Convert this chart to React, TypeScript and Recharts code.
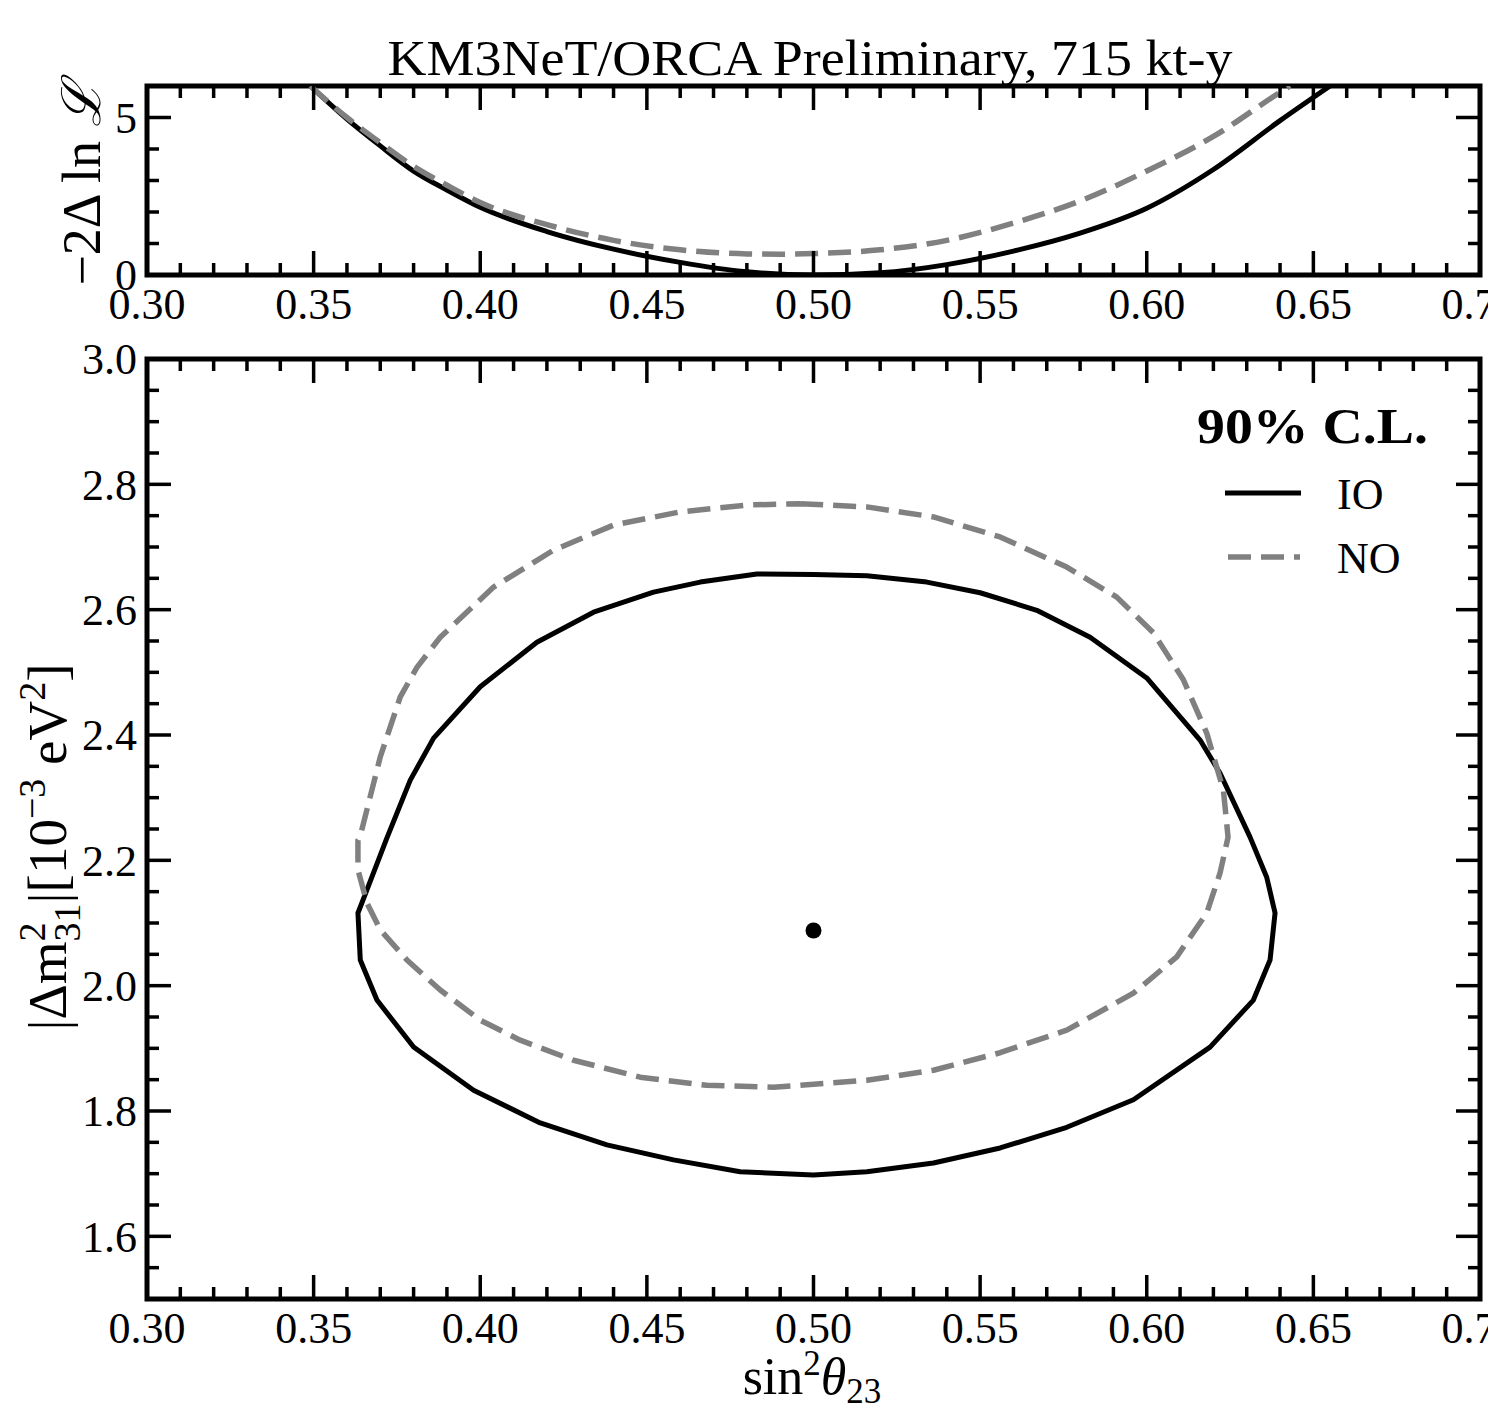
import React from 'react';
import { ComposedChart, Line, XAxis, YAxis, ReferenceArea, Scatter } from 'recharts';

const FONT = '"Liberation Serif", "Times New Roman", serif';

// ---- tick values ----
const xTicks = [0.30, 0.31, 0.32, 0.33, 0.34, 0.35, 0.36, 0.37, 0.38, 0.39, 0.40, 0.41, 0.42, 0.43, 0.44, 0.45, 0.46, 0.47, 0.48, 0.49, 0.50, 0.51, 0.52, 0.53, 0.54, 0.55, 0.56, 0.57, 0.58, 0.59, 0.60, 0.61, 0.62, 0.63, 0.64, 0.65, 0.66, 0.67, 0.68, 0.69, 0.70];
const xMajorTicks = [0.30, 0.35, 0.40, 0.45, 0.50, 0.55, 0.60, 0.65, 0.70];
const yTopTicks = [0, 1, 2, 3, 4, 5, 6];
const yTopMajor = [0, 5];
const yBottomTicks = [1.50, 1.55, 1.60, 1.65, 1.70, 1.75, 1.80, 1.85, 1.90, 1.95, 2.00, 2.05, 2.10, 2.15, 2.20, 2.25, 2.30, 2.35, 2.40, 2.45, 2.50, 2.55, 2.60, 2.65, 2.70, 2.75, 2.80, 2.85, 2.90, 2.95, 3.00];
const yBottomMajor = [1.6, 1.8, 2.0, 2.2, 2.4, 2.6, 2.8, 3.0];

// ---- top panel: -2 Delta ln L profiles ----
const ioProfile = [
  { x: 0.349, y: 6.0 }, { x: 0.36, y: 4.95 }, { x: 0.37, y: 4.1 }, { x: 0.38, y: 3.3 },
  { x: 0.39, y: 2.7 }, { x: 0.40, y: 2.15 }, { x: 0.42, y: 1.38 }, { x: 0.44, y: 0.82 },
  { x: 0.46, y: 0.4 }, { x: 0.48, y: 0.1 }, { x: 0.50, y: 0.0 }, { x: 0.52, y: 0.07 },
  { x: 0.54, y: 0.33 }, { x: 0.56, y: 0.76 }, { x: 0.58, y: 1.33 }, { x: 0.60, y: 2.12 },
  { x: 0.62, y: 3.35 }, { x: 0.64, y: 4.9 }, { x: 0.655, y: 6.0 },
];
const noProfile = [
  { x: 0.349, y: 6.0 }, { x: 0.36, y: 5.0 }, { x: 0.37, y: 4.2 }, { x: 0.38, y: 3.45 },
  { x: 0.39, y: 2.85 }, { x: 0.40, y: 2.3 }, { x: 0.42, y: 1.6 }, { x: 0.44, y: 1.1 },
  { x: 0.46, y: 0.8 }, { x: 0.48, y: 0.67 }, { x: 0.49, y: 0.66 }, { x: 0.50, y: 0.68 },
  { x: 0.52, y: 0.8 }, { x: 0.54, y: 1.1 }, { x: 0.56, y: 1.65 }, { x: 0.58, y: 2.35 },
  { x: 0.60, y: 3.3 }, { x: 0.62, y: 4.4 }, { x: 0.64, y: 5.8 }, { x: 0.643, y: 6.0 },
];

// ---- bottom panel: 90% C.L. contours ----
const ioContour = [
  { x: 0.500, y: 2.656 }, { x: 0.516, y: 2.654 }, { x: 0.534, y: 2.644 }, { x: 0.550, y: 2.627 },
  { x: 0.567, y: 2.599 }, { x: 0.583, y: 2.556 }, { x: 0.600, y: 2.491 }, { x: 0.616, y: 2.392 },
  { x: 0.622, y: 2.339 }, { x: 0.631, y: 2.237 }, { x: 0.636, y: 2.173 }, { x: 0.6385, y: 2.116 },
  { x: 0.637, y: 2.041 }, { x: 0.632, y: 1.977 }, { x: 0.619, y: 1.902 }, { x: 0.596, y: 1.818 },
  { x: 0.576, y: 1.774 }, { x: 0.556, y: 1.741 }, { x: 0.536, y: 1.717 }, { x: 0.516, y: 1.703 },
  { x: 0.500, y: 1.698 }, { x: 0.478, y: 1.703 }, { x: 0.458, y: 1.722 }, { x: 0.438, y: 1.746 },
  { x: 0.418, y: 1.781 }, { x: 0.398, y: 1.833 }, { x: 0.380, y: 1.902 }, { x: 0.369, y: 1.977 },
  { x: 0.364, y: 2.041 }, { x: 0.3633, y: 2.116 }, { x: 0.366, y: 2.153 }, { x: 0.372, y: 2.236 },
  { x: 0.379, y: 2.328 }, { x: 0.386, y: 2.395 }, { x: 0.400, y: 2.477 }, { x: 0.417, y: 2.548 },
  { x: 0.434, y: 2.596 }, { x: 0.452, y: 2.628 }, { x: 0.466, y: 2.644 }, { x: 0.483, y: 2.657 },
  { x: 0.500, y: 2.656 },
];
const noContour = [
  { x: 0.496, y: 2.769 }, { x: 0.516, y: 2.764 }, { x: 0.536, y: 2.748 }, { x: 0.556, y: 2.716 },
  { x: 0.576, y: 2.668 }, { x: 0.591, y: 2.620 }, { x: 0.602, y: 2.563 }, { x: 0.611, y: 2.488 },
  { x: 0.618, y: 2.403 }, { x: 0.623, y: 2.312 }, { x: 0.6244, y: 2.237 }, { x: 0.622, y: 2.180 },
  { x: 0.618, y: 2.116 }, { x: 0.609, y: 2.046 }, { x: 0.596, y: 1.988 }, { x: 0.576, y: 1.929 },
  { x: 0.556, y: 1.893 }, { x: 0.536, y: 1.865 }, { x: 0.516, y: 1.849 }, { x: 0.496, y: 1.841 },
  { x: 0.488, y: 1.838 }, { x: 0.468, y: 1.841 }, { x: 0.448, y: 1.854 }, { x: 0.428, y: 1.881 },
  { x: 0.412, y: 1.913 }, { x: 0.400, y: 1.945 }, { x: 0.388, y: 1.993 }, { x: 0.378, y: 2.041 },
  { x: 0.370, y: 2.089 }, { x: 0.366, y: 2.132 }, { x: 0.3633, y: 2.185 }, { x: 0.3633, y: 2.232 },
  { x: 0.3639, y: 2.237 }, { x: 0.370, y: 2.365 }, { x: 0.376, y: 2.461 }, { x: 0.381, y: 2.508 },
  { x: 0.388, y: 2.556 }, { x: 0.404, y: 2.636 }, { x: 0.422, y: 2.695 }, { x: 0.440, y: 2.735 },
  { x: 0.460, y: 2.756 }, { x: 0.480, y: 2.767 }, { x: 0.496, y: 2.769 },
];
const bestFit = [{ x: 0.50, y: 2.088 }];

const MAJOR_LEN = 24;
const MINOR_LEN = 12;
const TICK_W = 3.5;

const has = (arr: number[], v: number) => arr.some((m) => Math.abs(m - v) < 1e-9);

function makeXTick(side: 'bottom' | 'top') {
  return (props: any) => {
    const { x, y, payload } = props;
    const v = payload.value as number;
    const major = has(xMajorTicks, v);
    const len = major ? MAJOR_LEN : MINOR_LEN;
    const dir = side === 'bottom' ? -1 : 1;
    return (
      <g>
        <line x1={x} y1={y} x2={x} y2={y + dir * len} stroke="#000" strokeWidth={TICK_W} />
        {side === 'bottom' && major ? (
          <text x={x} y={y + 29} dy="0.35em" textAnchor="middle" fontFamily={FONT} fontSize={44} fill="#000">
            {v.toFixed(2)}
          </text>
        ) : null}
      </g>
    );
  };
}

function makeYTick(side: 'left' | 'right', majors: number[], fmt: (v: number) => string) {
  return (props: any) => {
    const { x, y, payload } = props;
    const v = payload.value as number;
    const major = has(majors, v);
    const len = major ? MAJOR_LEN : MINOR_LEN;
    const dir = side === 'left' ? 1 : -1;
    return (
      <g>
        <line x1={x} y1={y} x2={x + dir * len} y2={y} stroke="#000" strokeWidth={TICK_W} />
        {side === 'left' && major ? (
          <text x={x - 10} y={y} dy="0.35em" textAnchor="end" fontFamily={FONT} fontSize={44} fill="#000">
            {fmt(v)}
          </text>
        ) : null}
      </g>
    );
  };
}

const axisCommon = {
  type: 'number' as const,
  tickLine: false,
  axisLine: false,
  tickSize: 0,
  tickMargin: 0,
  interval: 0 as const,
  allowDataOverflow: true,
};

function TopPanel() {
  return (
    <ComposedChart width={1488} height={330} margin={{ top: 56, right: 0, bottom: 25, left: 87 }}>
      <XAxis xAxisId="b" dataKey="x" {...axisCommon} domain={[0.3, 0.7]} ticks={xTicks} height={30} tick={makeXTick('bottom')} />
      <XAxis xAxisId="t" orientation="top" dataKey="x" {...axisCommon} domain={[0.3, 0.7]} ticks={xTicks} height={30} tick={makeXTick('top')} />
      <YAxis yAxisId="l" dataKey="y" {...axisCommon} domain={[0, 6]} ticks={yTopTicks} width={60} tick={makeYTick('left', yTopMajor, (v) => String(v))} />
      <YAxis yAxisId="r" orientation="right" dataKey="y" {...axisCommon} domain={[0, 6]} ticks={yTopTicks} width={8} tick={makeYTick('right', yTopMajor, (v) => String(v))} />
      <Line xAxisId="b" yAxisId="l" data={ioProfile} dataKey="y" type="monotone" stroke="#000" strokeWidth={5} dot={false} activeDot={false} isAnimationActive={false} />
      <Line xAxisId="b" yAxisId="l" data={noProfile} dataKey="y" type="monotone" stroke="#808080" strokeWidth={5.5} strokeDasharray="23 10" dot={false} activeDot={false} isAnimationActive={false} />
      <ReferenceArea xAxisId="b" yAxisId="l" x1={0.3} x2={0.7} y1={0} y2={6} fill="none" fillOpacity={0} stroke="#000" strokeWidth={5} />
    </ComposedChart>
  );
}

function BottomPanel() {
  return (
    <ComposedChart width={1488} height={1082} margin={{ top: 9, right: 0, bottom: 83, left: 87 }}>
      <XAxis xAxisId="b" dataKey="x" {...axisCommon} domain={[0.3, 0.7]} ticks={xTicks} height={30} tick={makeXTick('bottom')} />
      <XAxis xAxisId="t" orientation="top" dataKey="x" {...axisCommon} domain={[0.3, 0.7]} ticks={xTicks} height={20} tick={makeXTick('top')} />
      <YAxis yAxisId="l" dataKey="y" {...axisCommon} domain={[1.5, 3.0]} ticks={yBottomTicks} width={60} tick={makeYTick('left', yBottomMajor, (v) => v.toFixed(1))} />
      <YAxis yAxisId="r" orientation="right" dataKey="y" {...axisCommon} domain={[1.5, 3.0]} ticks={yBottomTicks} width={8} tick={makeYTick('right', yBottomMajor, (v) => v.toFixed(1))} />
      <Line xAxisId="b" yAxisId="l" data={ioContour} dataKey="y" type="linear" stroke="#000" strokeWidth={5} strokeLinejoin="round" dot={false} activeDot={false} isAnimationActive={false} />
      <Line xAxisId="b" yAxisId="l" data={noContour} dataKey="y" type="linear" stroke="#808080" strokeWidth={5.5} strokeDasharray="23 10" strokeLinejoin="round" dot={false} activeDot={false} isAnimationActive={false} />
      <Scatter xAxisId="b" yAxisId="l" data={bestFit} dataKey="y" isAnimationActive={false}
        shape={(p: any) => <circle cx={p.cx} cy={p.cy} r={8} fill="#000" />} />
      <ReferenceArea xAxisId="b" yAxisId="l" x1={0.3} x2={0.7} y1={1.5} y2={3.0} fill="none" fillOpacity={0} stroke="#000" strokeWidth={5} />
    </ComposedChart>
  );
}

function Overlay() {
  return (
    <svg width={1488} height={1412} style={{ position: 'absolute', left: 0, top: 0, pointerEvents: 'none' }}>
      <text x={810} y={75} textAnchor="middle" fontFamily={FONT} fontSize={50} textLength={845} lengthAdjust="spacingAndGlyphs" fill="#000">
        KM3NeT/ORCA Preliminary, 715 kt-y
      </text>
      <text transform="translate(100,184) rotate(-90)" textAnchor="middle" fontFamily={FONT} fontSize={54} fill="#000">
        −2Δ ln <tspan fontStyle="italic">ℒ</tspan>
      </text>
      <text transform="translate(66,847) rotate(-90)" textAnchor="middle" fontFamily={FONT} fontSize={55} fill="#000">
        |Δm<tspan fontSize={38} dy={-21}>2</tspan>
        <tspan fontSize={38} dx={-19} dy={35}>31</tspan>
        <tspan dy={-14}>|[10</tspan>
        <tspan fontSize={38} dy={-21}>−3</tspan>
        <tspan dy={21}> eV</tspan>
        <tspan fontSize={38} dy={-21}>2</tspan>
        <tspan dy={21}>]</tspan>
      </text>
      <text x={812} y={1394} textAnchor="middle" fontFamily={FONT} fontSize={52} fill="#000">
        sin<tspan fontSize={35} dy={-19}>2</tspan>
        <tspan fontStyle="italic" dy={19}>θ</tspan>
        <tspan fontSize={35} dy={9}>23</tspan>
      </text>
      {/* legend */}
      <text x={1197} y={443} fontFamily={FONT} fontSize={50} fontWeight="bold" textLength={231} lengthAdjust="spacingAndGlyphs" fill="#000">
        90% C.L.
      </text>
      <line x1={1225} y1={493} x2={1301} y2={493} stroke="#000" strokeWidth={5} />
      <text x={1337} y={509} fontFamily={FONT} fontSize={44} fill="#000">IO</text>
      <line x1={1228} y1={557} x2={1300} y2={557} stroke="#808080" strokeWidth={5.5} strokeDasharray="23 10" />
      <text x={1337} y={573} fontFamily={FONT} fontSize={44} fill="#000">NO</text>
    </svg>
  );
}

export default function App() {
  return (
    <div style={{ position: 'absolute', left: 0, top: 0, width: 1488, height: 1412, background: '#fff' }}>
      <div style={{ position: 'absolute', left: 0, top: 0 }}>
        <TopPanel />
      </div>
      <div style={{ position: 'absolute', left: 0, top: 330 }}>
        <BottomPanel />
      </div>
      <Overlay />
    </div>
  );
}
